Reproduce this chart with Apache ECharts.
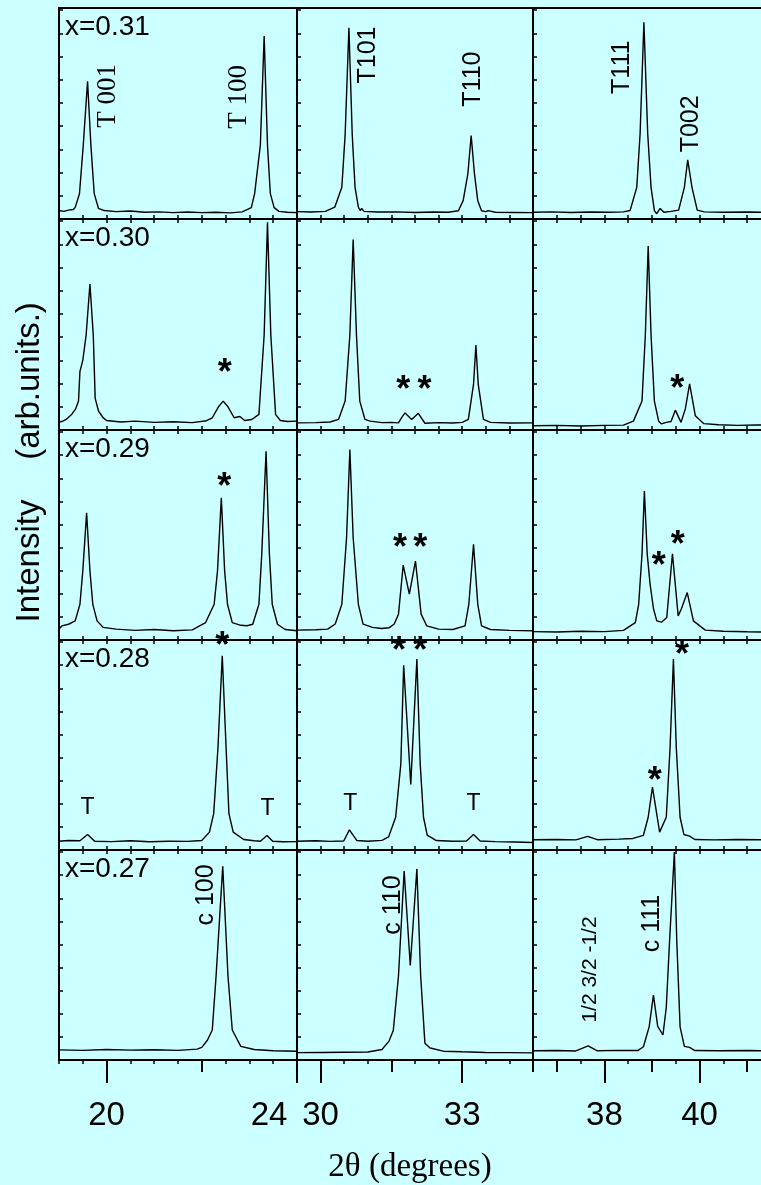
<!DOCTYPE html>
<html>
<head>
<meta charset="utf-8">
<script src="https://cdn.jsdelivr.net/npm/echarts@6/dist/echarts.min.js"></script>
<style>
  html, body { margin: 0; padding: 0; background: #ccffff; }
  #chart { width: 761px; height: 1185px; }
</style>
</head>
<body>
<div id="chart"></div>
<script>
// XRD scans of five compositions, each shown in three 2θ windows.
// Points are [2θ in degrees, intensity in arbitrary units (0–100 per panel)].

const compositions = ['x=0.31', 'x=0.30', 'x=0.29', 'x=0.28', 'x=0.27'];

// 2θ windows and their tick labels
const windowLo = [19, 24],    majorLo = [20, 24],  minorLo = [22];
const windowMid = [29.5, 34.5], majorMid = [30, 33], minorMid = [31.5, 34.5];
const windowHi = [36.5, 41.5], majorHi = [38, 40],  minorHi = [37, 39, 41];

// ---- x = 0.31 ----
const x031_lo = [[19.0,4],[19.1,3.6],[19.2,4.2],[19.3,4.5],[19.34,5.5],[19.43,12],[19.51,35],[19.6,65.3],[19.67,35],[19.74,12],[19.83,5],[19.95,4],[20.2,3.5],[20.5,3.8],[20.8,3.2],[21.1,3.4],[21.4,3],[21.7,3.3],[22.0,3],[22.3,3.2],[22.6,2.9],[22.85,3.4],[23.04,5.4],[23.11,12],[23.23,35],[23.31,86.7],[23.38,35],[23.44,12],[23.52,5.4],[23.62,3.6],[23.8,3.2],[24.0,3]];
const x031_mid = [[29.5,3.5],[29.8,3.3],[30.1,3.6],[30.3,5.6],[30.45,15],[30.52,40],[30.6,90.6],[30.67,40],[30.73,15],[30.8,5.6],[30.84,4],[30.87,5],[30.92,3.6],[31.2,3.3],[31.6,3.4],[32.0,3.1],[32.4,3.3],[32.7,3.2],[32.92,3.9],[33.02,8.7],[33.12,21.4],[33.19,39.6],[33.26,21.4],[33.33,8.7],[33.41,3.9],[33.5,3.5],[33.55,4.0],[33.7,3.2],[34.1,3.1],[34.5,3.0]];
const x031_hi = [[36.5,3.2],[36.9,3.4],[37.3,3.1],[37.7,3.3],[38.1,3.2],[38.4,3.4],[38.54,4],[38.68,15],[38.75,40.4],[38.83,93.2],[38.91,40.4],[38.98,15],[39.05,4],[39.1,2.5],[39.17,5],[39.25,3.2],[39.4,3.6],[39.56,4.2],[39.68,15],[39.75,28],[39.84,15],[39.95,4.2],[40.1,3.4],[40.5,3.2],[41.0,3.3],[41.5,3.1]];

// ---- x = 0.30 ----
const x030_lo = [[19.0,3.8],[19.06,4],[19.15,5],[19.27,7.5],[19.35,10],[19.41,13.7],[19.44,27.8],[19.5,33],[19.57,45],[19.65,69.2],[19.72,45],[19.76,15],[19.83,9],[19.92,6],[20.0,4.5],[20.3,3.8],[20.6,4.2],[21.0,3.6],[21.4,3.9],[21.8,3.5],[22.1,4.4],[22.22,5.8],[22.35,11],[22.45,13.7],[22.55,11],[22.68,5.8],[22.8,6.4],[22.9,4.5],[23.05,5],[23.2,7.4],[23.31,45],[23.38,98.4],[23.45,45],[23.55,7.4],[23.65,4.5],[23.8,4],[24.0,4.2]];
const x030_mid = [[29.5,3.4],[29.9,3.5],[30.2,3.8],[30.38,5],[30.52,13.7],[30.62,45],[30.69,90.3],[30.76,45],[30.83,13.7],[30.94,5],[31.05,4.2],[31.3,3.5],[31.5,3.6],[31.65,3.4],[31.72,6],[31.79,8.1],[31.93,5],[32.07,7.9],[32.21,3.2],[32.5,3.5],[32.8,3.3],[33.0,3.6],[33.13,5],[33.24,21.6],[33.29,40.3],[33.34,21.6],[33.45,5],[33.6,3.6],[34.0,3.3],[34.5,3.4]];
const x030_hi = [[36.5,2],[37.0,2.2],[37.5,1.9],[38.0,2.2],[38.4,2.3],[38.61,4.2],[38.79,13.7],[38.86,45],[38.92,87.2],[38.98,45],[39.05,13.7],[39.14,4.2],[39.2,2.9],[39.3,3.6],[39.4,4],[39.49,9.4],[39.61,3.6],[39.7,10],[39.79,21.9],[39.91,6.8],[40.09,3],[40.4,2.5],[40.8,2.2],[41.2,2.4],[41.5,2.2]];

// ---- x = 0.29 ----
const x029_lo = [[19.0,5.2],[19.06,6.7],[19.2,7.5],[19.34,9.1],[19.44,17],[19.5,32.9],[19.58,60.6],[19.65,32.9],[19.71,17],[19.8,9.1],[19.93,6],[20.2,5.2],[20.6,4.6],[21.0,5],[21.4,4.4],[21.8,4.8],[22.08,8.3],[22.26,17],[22.33,32.9],[22.41,67.7],[22.48,32.9],[22.54,17],[22.64,8.3],[22.82,7],[22.95,6.8],[23.07,7.5],[23.2,17],[23.26,41],[23.35,89.9],[23.42,41],[23.48,17],[23.59,7.5],[23.75,5],[24.0,4.4]];
const x029_mid = [[29.5,4.7],[29.9,4.9],[30.15,5.2],[30.31,7.6],[30.45,17],[30.55,48.7],[30.62,90.7],[30.69,48.7],[30.8,17],[30.9,7.6],[31.1,6],[31.29,5.5],[31.45,5.8],[31.56,7.6],[31.65,12.3],[31.75,35.7],[31.88,21.8],[32.01,37.6],[32.13,12.3],[32.25,6.7],[32.5,5.2],[32.8,5],[33.06,6.7],[33.14,17],[33.24,45.6],[33.33,17],[33.41,6.7],[33.6,5],[34.0,4.6],[34.5,4.4]];
const x029_hi = [[36.5,4.0],[37.0,3.8],[37.5,4.2],[38.0,4.0],[38.4,4.6],[38.65,8.3],[38.72,17],[38.79,40.8],[38.84,70.9],[38.9,40.8],[38.96,26.6],[39.03,15],[39.1,9.1],[39.2,8.5],[39.31,10.7],[39.43,41.1],[39.55,11.5],[39.62,15],[39.74,22.6],[39.87,9.1],[40.12,4.7],[40.5,4.2],[41.0,3.9],[41.5,3.8]];

// ---- x = 0.28 ----
const x028_lo = [[19.0,4.2],[19.2,4.5],[19.44,4.4],[19.6,7.4],[19.75,4.2],[20.1,4],[20.5,4.4],[20.9,3.9],[21.3,4.2],[21.7,4.1],[22.0,4.5],[22.16,8.5],[22.25,17.3],[22.34,48.9],[22.43,92.5],[22.51,48.9],[22.57,17.3],[22.66,8.5],[22.88,5],[23.1,4.4],[23.23,4.2],[23.37,6.9],[23.49,4.2],[23.7,3.9],[24.0,4]];
const x028_mid = [[29.5,4.2],[29.9,4.4],[30.2,4.1],[30.49,4.3],[30.61,9.6],[30.77,4.5],[31.0,4.2],[31.3,4.6],[31.44,6.2],[31.59,15.6],[31.7,41],[31.76,88],[31.91,31.2],[32.04,90.9],[32.11,41],[32.18,15.6],[32.26,7],[32.34,6],[32.45,4.5],[32.8,4.2],[33.09,4.3],[33.24,7.4],[33.38,4.3],[33.7,4],[34.1,3.8],[34.5,3.6]];
const x028_hi = [[36.5,4.9],[37.0,5],[37.4,4.8],[37.65,6.5],[37.85,4.9],[38.3,5.2],[38.6,5.5],[38.82,7],[38.92,15.6],[39.01,29.9],[39.16,8.5],[39.3,15.6],[39.38,48.9],[39.45,90.9],[39.51,48.9],[39.59,15.6],[39.67,7.4],[39.79,6.6],[39.9,5],[40.3,4.8],[40.8,5],[41.5,4.8]];

// ---- x = 0.27 ----
const x027_lo = [[19.0,4.8],[19.5,4.6],[20.0,5],[20.5,4.7],[21.0,4.9],[21.5,4.6],[21.9,5.2],[22.0,6],[22.12,9.5],[22.22,14.3],[22.3,40],[22.44,92.2],[22.55,40],[22.64,14.3],[22.75,9.5],[22.82,6.5],[23.1,5],[23.5,4.4],[24.0,4.2]];
const x027_mid = [[29.5,3.5],[30,3.6],[30.5,3.7],[31.0,3.8],[31.3,5],[31.45,9],[31.54,14],[31.65,40],[31.77,90],[31.9,45],[32.04,91],[32.12,40],[32.21,8],[32.32,5.7],[32.6,4.2],[33.0,3.9],[33.5,3.6],[34.0,3.5],[34.5,3.4]];
const x027_hi = [[36.5,4.4],[37.0,4.5],[37.4,4.3],[37.66,6.7],[37.85,4.4],[38.3,4.6],[38.7,4.5],[38.82,6.3],[38.94,15.8],[39.03,30.9],[39.12,16],[39.23,11.9],[39.3,25],[39.37,57],[39.47,99],[39.52,57],[39.59,15.8],[39.68,6.5],[39.79,6],[39.9,4.5],[40.4,4.4],[41.0,4.5],[41.5,4.3]];

// ---- reflection labels: [2θ, intensity, text] ----
const hklSerif_031_lo = [[20.02, 58.4, 'T 001'], [22.79, 57.9, 'T 100']];
const hkl_031_mid = [[31.0, 77.7, 'T101'], [33.24, 66.3, 'T110']];
const hkl_031_hi = [[38.38, 71.9, 'T111'], [39.83, 45.1, 'T002']];
const hkl_027_lo = [[22.1, 78.6, 'c 100']];
const hkl_027_mid = [[31.54, 73.8, 'c 110']];
const hkl_027_hi = [[39.0, 65, 'c 111']];
const superlattice_027_hi = [[37.71, 43.1, '1/2 3/2 -1/2']];
const tMarks_028_lo = [[19.6, 20.4], [23.38, 19.6]];
const tMarks_028_mid = [[30.63, 22], [33.24, 22.3]];

// ---- extra-phase markers (*): [2θ, intensity] ----
const stars_030_lo = [[22.48, 26.4]];
const stars_030_mid = [[31.75, 18.4], [32.2, 18.4]];
const stars_030_hi = [[39.53, 18.8]];
const stars_029_lo = [[22.47, 72.5]];
const stars_029_mid = [[31.68, 43.2], [32.11, 43.2]];
const stars_029_hi = [[39.14, 34.5], [39.54, 44.8]];
const stars_028_lo = [[22.43, 96.4]];
const stars_028_mid = [[31.66, 94.1], [32.11, 94.1]];
const stars_028_hi = [[39.06, 32.3], [39.63, 92.5]];

const scans = [
  [x031_lo, x031_mid, x031_hi],
  [x030_lo, x030_mid, x030_hi],
  [x029_lo, x029_mid, x029_hi],
  [x028_lo, x028_mid, x028_hi],
  [x027_lo, x027_mid, x027_hi]
];
const windows = [
  { range: windowLo, major: majorLo, minor: minorLo },
  { range: windowMid, major: majorMid, minor: minorMid },
  { range: windowHi, major: majorHi, minor: minorHi }
];

// ---- layout ----
const rowTops = [8, 219, 430, 640, 850];
const plotBottom = 1060;
const colLefts = [59, 297, 533];
const colWidths = [238, 236, 238];
const SANS = '"Liberation Sans", Arial, sans-serif';
const SERIF = '"Liberation Serif", "Times New Roman", serif';

const grids = [], xAxes = [], yAxes = [], series = [], graphics = [];
const dataAxis = {};   // grid index -> x axis index used by its series

for (let r = 0; r < compositions.length; r++) {
  const top = rowTops[r];
  const height = (r + 1 < rowTops.length ? rowTops[r + 1] : plotBottom) - top;
  const lastRow = r === compositions.length - 1;
  for (let c = 0; c < 3; c++) {
    const g = grids.length;
    const w = windows[c];
    grids.push({
      left: colLefts[c], top: top, width: colWidths[c], height: height,
      show: true, borderColor: '#000', borderWidth: 2, backgroundColor: 'transparent',
      containLabel: false, outerBoundsMode: 'none'
    });
    const base = {
      gridIndex: g, type: 'value', min: w.range[0], max: w.range[1],
      axisLine: { show: false }, splitLine: { show: false }, silent: true
    };
    // short inward ticks every 0.5° along the top edge
    xAxes.push(Object.assign({}, base, {
      position: 'top', interval: 0.5,
      axisTick: { show: true, inside: true, length: 4, lineStyle: { color: '#000', width: 1.5 } },
      axisLabel: { show: false }
    }));
    dataAxis[g] = xAxes.length;
    if (!lastRow) {
      xAxes.push(Object.assign({}, base, {
        position: 'bottom', interval: 0.5,
        axisTick: { show: true, inside: true, length: 4, lineStyle: { color: '#000', width: 1.5 } },
        axisLabel: { show: false }
      }));
    } else {
      const maxVal = w.range[1];
      xAxes.push(Object.assign({}, base, {
        position: 'bottom',
        axisTick: { show: true, inside: false, length: 23, customValues: w.major, lineStyle: { color: '#000', width: 2 } },
        axisLabel: {
          show: true, customValues: w.major, color: '#000', fontFamily: SANS, fontSize: 33, margin: 39,
          formatter: function (v) { return v === maxVal ? '{edge|' + v + '}' : String(v); },
          rich: { edge: { color: '#000', fontFamily: SANS, fontSize: 33, padding: [0, 56, 0, 0] } }
        }
      }));
      xAxes.push(Object.assign({}, base, {
        position: 'bottom',
        axisTick: { show: true, inside: false, length: 12, customValues: w.minor, lineStyle: { color: '#000', width: 2 } },
        axisLabel: { show: false }
      }));
    }
    yAxes.push({
      gridIndex: g, type: 'value', min: 0, max: 100, interval: 11,
      axisLine: { show: false }, splitLine: { show: false },
      axisTick: { show: true, inside: true, length: 4, lineStyle: { color: '#000', width: 1.5 } },
      axisLabel: { show: false }, silent: true
    });
    series.push({
      type: 'line', xAxisIndex: dataAxis[g], yAxisIndex: g, data: scans[r][c],
      symbol: 'none', showSymbol: false, silent: true, animation: false,
      lineStyle: { color: '#000', width: 1.4 }, z: 3
    });
    if (c === 0) {
      graphics.push({
        type: 'text', x: colLefts[0] + 6, y: top + 5, silent: true,
        style: { text: compositions[r], fill: '#000', font: '28px ' + SANS, align: 'left', verticalAlign: 'top', textAlign: 'left', textVerticalAlign: 'top' }
      });
    }
  }
}

function annotate(g, list, label) {
  series.push({
    type: 'scatter', xAxisIndex: dataAxis[g], yAxisIndex: g, data: list,
    symbolSize: 1, itemStyle: { color: 'rgba(0,0,0,0)' }, silent: true, animation: false, z: 5,
    labelLayout: { hideOverlap: false },
    label: Object.assign({
      show: true, position: 'inside', color: '#000', opacity: 1,
      textBorderWidth: 0, textBorderColor: 'transparent', textShadowBlur: 0
    }, label)
  });
}
const vertSerif = { rotate: 90, fontFamily: SERIF, fontSize: 27, formatter: p => p.value[2] };
const vertSans = { rotate: 90, fontFamily: SANS, fontSize: 25, formatter: p => p.value[2] };
const smallVert = { rotate: 90, fontFamily: SANS, fontSize: 21, formatter: p => p.value[2] };
const star = { fontFamily: SANS, fontSize: 36, fontWeight: 'bold', offset: [0, 8], formatter: () => '*' };
const tMark = { fontFamily: SANS, fontSize: 23, formatter: () => 'T' };

annotate(0, hklSerif_031_lo, vertSerif);
annotate(1, hkl_031_mid, vertSans);
annotate(2, hkl_031_hi, vertSans);
annotate(3, stars_030_lo, star);
annotate(4, stars_030_mid, star);
annotate(5, stars_030_hi, star);
annotate(6, stars_029_lo, star);
annotate(7, stars_029_mid, star);
annotate(8, stars_029_hi, star);
annotate(9, stars_028_lo, star);
annotate(10, stars_028_mid, star);
annotate(11, stars_028_hi, star);
annotate(9, tMarks_028_lo, tMark);
annotate(10, tMarks_028_mid, tMark);
annotate(12, hkl_027_lo, vertSans);
annotate(13, hkl_027_mid, vertSans);
annotate(14, hkl_027_hi, vertSans);
annotate(14, superlattice_027_hi, smallVert);

// axis titles
graphics.push({
  type: 'text', x: 30, y: 561, rotation: Math.PI / 2, silent: true,
  style: { text: 'Intensity', fill: '#000', font: '33px ' + SANS, align: 'center', verticalAlign: 'middle', textAlign: 'center', textVerticalAlign: 'middle' }
});
graphics.push({
  type: 'text', x: 30, y: 381, rotation: Math.PI / 2, silent: true,
  style: { text: '(arb.units.)', fill: '#000', font: '33px ' + SANS, align: 'center', verticalAlign: 'middle', textAlign: 'center', textVerticalAlign: 'middle' }
});
graphics.push({
  type: 'text', x: 410, y: 1167, silent: true,
  style: { text: '2θ (degrees)', fill: '#000', font: '33px ' + SERIF, align: 'center', verticalAlign: 'middle', textAlign: 'center', textVerticalAlign: 'middle' }
});

const chart = echarts.init(document.getElementById('chart'), null, { renderer: 'canvas' });
chart.setOption({
  backgroundColor: '#ccffff',
  animation: false,
  grid: grids,
  xAxis: xAxes,
  yAxis: yAxes,
  series: series,
  graphic: { elements: graphics }
});
</script>
</body>
</html>
